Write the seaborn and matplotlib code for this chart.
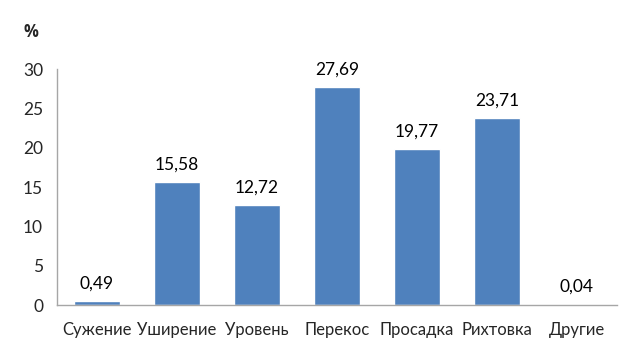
import matplotlib
matplotlib.use("Agg")
from matplotlib import pyplot as plt
import seaborn as sns
import pandas as pd

categories = ["Сужение", "Уширение", "Уровень", "Перекос", "Просадка", "Рихтовка", "Другие"]
values = [0.49, 15.58, 12.72, 27.69, 19.77, 23.71, 0.04]
value_labels = ["0,49", "15,58", "12,72", "27,69", "19,77", "23,71", "0,04"]
y_ticks = [0, 5, 10, 15, 20, 25, 30]

sns.set_style("white")
plt.rcParams["font.family"] = ["Lato", "DejaVu Sans"]

df = pd.DataFrame({"cat": categories, "val": values})

fig = plt.figure(figsize=(6.41, 3.58), dpi=100)
ax = fig.add_axes([57 / 641, 1 - 305 / 358, 560 / 641, 236 / 358])

sns.barplot(data=df, x="cat", y="val", color="#4F81BD", saturation=1, width=0.58, ax=ax)

for i, (v, lab) in enumerate(zip(values, value_labels)):
    ax.annotate(lab, (i, v), xytext=(0, 7), textcoords="offset points",
                ha="center", va="bottom", fontsize=12.5, color="#000000")

ax.set_ylim(0, 30)
ax.set_xlim(-0.5, 6.5)
ax.set_yticks(y_ticks)
ax.set_yticklabels([str(t) for t in y_ticks], fontsize=12.5)
ax.tick_params(axis="y", length=0, pad=10)
ax.tick_params(axis="x", length=0, pad=12, labelsize=12)
ax.set_xlabel("")
ax.set_ylabel("")

for side in ["top", "right"]:
    ax.spines[side].set_visible(False)
for side in ["left", "bottom"]:
    ax.spines[side].set_color("#A6A6A6")
    ax.spines[side].set_linewidth(1)

fig.text(31 / 641, 1 - 32 / 358, "%", fontsize=12, fontweight="bold",
         family=["Open Sans", "DejaVu Sans"], ha="center", va="center")

fig.savefig("out.png", dpi=100, facecolor="white")
